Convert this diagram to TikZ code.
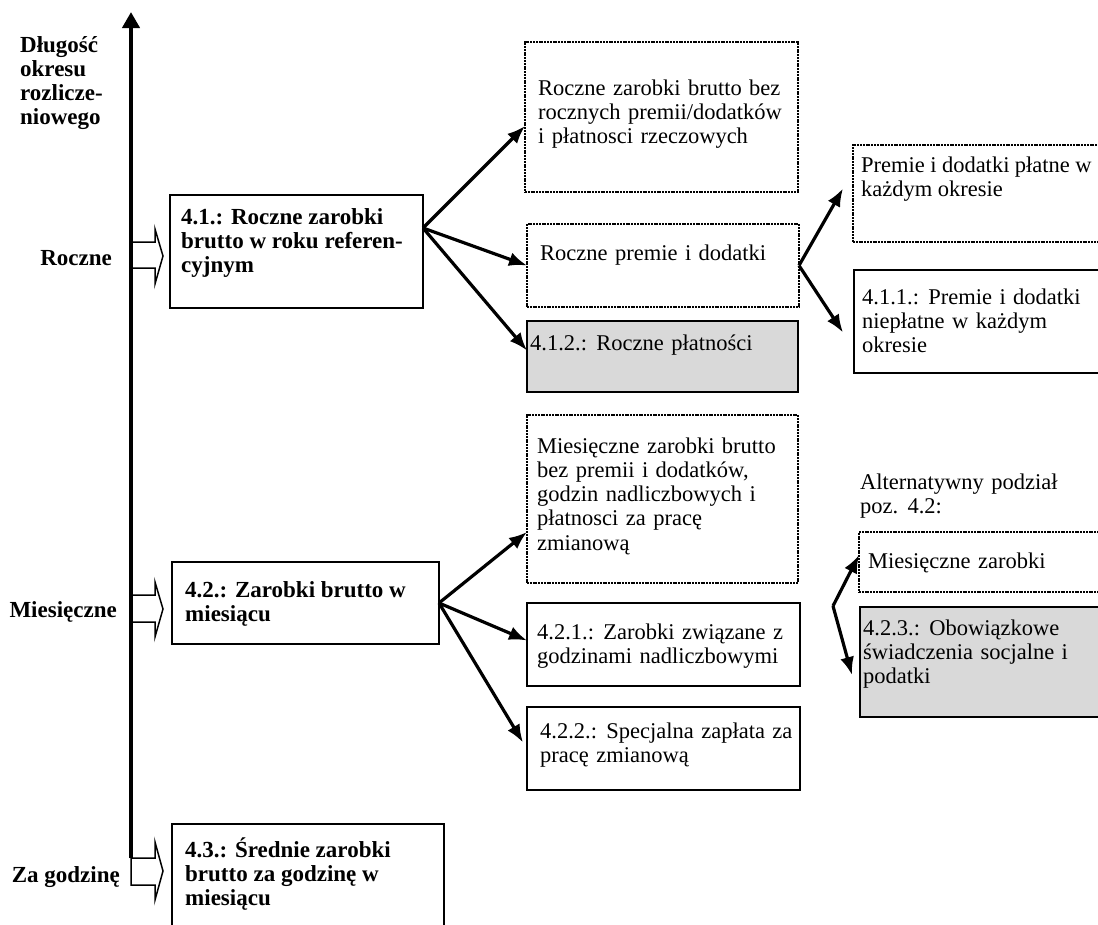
\documentclass[tikz,border=0pt]{standalone}
\usepackage{fontspec}
\setmainfont{Liberation Serif}
\usetikzlibrary{arrows.meta,calc}
\newcommand\widewordsp{\spaceskip 0.33em plus 0.05em\relax}
\newcommand\normalwordsp{\spaceskip 0.24em\relax}
\begin{document}
\begin{tikzpicture}[x=1pt,y=-1pt,
  solidbox/.style={draw, line width=1.8pt, inner sep=0pt, outer sep=0pt, anchor=north west},
  dotbox/.style={solidbox, line width=2pt, dash pattern=on 2pt off 0.8pt},
  graybox/.style={solidbox, fill=black!15},
  txt/.style={anchor=north west, inner sep=0pt, align=left, font=\fontsize{22.5}{24.2}\selectfont\widewordsp},
  stxt/.style={anchor=base west, inner sep=0pt, font=\fontsize{22.5}{24.2}\selectfont\widewordsp},
  btxt/.style={anchor=north west, inner sep=0pt, align=left, font=\fontsize{23}{24}\selectfont\bfseries},
  blabel/.style={anchor=base east, inner sep=0pt, font=\fontsize{23}{24}\selectfont\bfseries},
  conn/.style={line width=3.2pt, -{Latex[length=18pt,width=14pt]}},
  blockarrow/.style={draw, line width=1.5pt, line join=miter},
  axis/.style={line width=4pt, -{Triangle[length=16pt,width=17pt]}}
]
\useasboundingbox (0,0) rectangle (1098,924);
\clip (0,0) rectangle (1098,924);

% ---- left labels
\node[btxt] (lab) at (20,35.2) {\strut D\l{}ugość\\okresu\\rozlicze-\\niowego};
\node[blabel] (lroczne) at (112,265) {Roczne};
\node[blabel] (lmies) at (117,617) {Miesięczne};
\node[blabel] (lgodz) at (120,882) {Za godzinę};

% ---- main boxes
\node[solidbox, minimum width=253pt, minimum height=113pt] (b41) at (170,195) {};
\node[btxt] (t41) at (181,207.2) {\strut 4.1.: Roczne zarobki\\brutto w roku referen-\\cyjnym};
\node[solidbox, minimum width=267pt, minimum height=82pt] (b42) at (172,562) {};
\node[btxt] (t42) at (185,580.2) {\strut 4.2.: Zarobki brutto w\\miesiącu};
\node[solidbox, minimum width=272pt, minimum height=111pt] (b43) at (172,824) {};
\node[btxt] (t43) at (185,837.2) {\strut 4.3.: Średnie zarobki\\brutto za godzinę w\\miesiącu};

% ---- block arrows from the axis
\draw[blockarrow] (131,242) -- (155,242) -- (155,229) -- (163,256) -- (155,284) -- (155,268) -- (131,268);
\draw[blockarrow] (131,595) -- (155,595) -- (155,582) -- (163,609) -- (155,637) -- (155,622) -- (131,622);
\draw[blockarrow] (131,858) -- (155,858) -- (155,842) -- (163,871) -- (155,900) -- (155,885) -- (131,885) -- cycle;

% ---- axis
\coordinate (axbot) at (131,858);
\coordinate (axtop) at (131,12);
\draw[axis] (axbot) -- (axtop);

% ---- annual branch
\node[dotbox, minimum width=273pt, minimum height=150pt] (d1) at (525,42) {};
\node[txt] (td1) at (538,78.1) {\strut Roczne zarobki brutto bez\\rocznych premii/dodatków\\i płatnosci rzeczowych};
\node[dotbox, minimum width=272pt, minimum height=83pt] (d2) at (527,224) {};
\node[stxt] (td2) at (540,260) {Roczne premie i dodatki};
\node[graybox, minimum width=271pt, minimum height=71pt] (g412) at (527,321) {};
\node[stxt] (tg412) at (530,350) {4.1.2.: Roczne płatności};

\node[dotbox, minimum width=257pt, minimum height=97pt] (d3) at (853,145) {};
\node[txt, font=\fontsize{22.5}{24.2}\selectfont\normalwordsp] (td3) at (861,155.1) {\strut Premie i dodatki płatne w\\każdym okresie};
\node[solidbox, minimum width=256pt, minimum height=103pt] (b411) at (854,270) {};
\node[txt] (tb411) at (862,287.1) {\strut 4.1.1.: Premie i dodatki\\niepłatne w każdym\\okresie};

\coordinate (s41) at ([yshift=-33pt]b41.north east);
\draw[conn] (s41) -- ([yshift=-9pt]d1.west);
\draw[conn] (s41) -- (d2.west);
\draw[conn] (s41) -- ([yshift=6pt]g412.west);
\draw[conn] (d2.east) -- ([xshift=-10pt,yshift=5pt]d3.west);
\draw[conn] (d2.east) -- ([xshift=-11pt,yshift=-11pt]b411.west);

% ---- monthly branch
\node[dotbox, minimum width=271pt, minimum height=168pt] (d4) at (527,415) {};
\node[txt] (td4) at (537,436.1) {\strut Miesięczne zarobki brutto\\bez premii i dodatków,\\godzin nadliczbowych i\\płatnosci za pracę\\zmianową};
\node[solidbox, minimum width=273pt, minimum height=83pt] (b421) at (527,603) {};
\node[txt] (tb421) at (537,622.1) {\strut 4.2.1.: Zarobki związane z\\godzinami nadliczbowymi};
\node[solidbox, minimum width=273pt, minimum height=83pt] (b422) at (527,707) {};
\node[txt] (tb422) at (540,721.1) {\strut 4.2.2.: Specjalna zapłata za\\pracę zmianową};

\draw[conn] (b42.east) -- ([yshift=-33pt]d4.west);
\draw[conn] (b42.east) -- ([yshift=4pt]b421.west);
\draw[conn] (b42.east) -- ([xshift=-4pt,yshift=6pt]b422.west);

% ---- alternative breakdown
\node[txt] (alt) at (860,472.1) {\strut Alternatywny podział\\poz. 4.2:};
\node[dotbox, minimum width=251pt, minimum height=60pt] (d5) at (859,532) {};
\node[stxt] (td5) at (868,568) {Miesięczne zarobki};
\node[graybox, minimum width=250pt, minimum height=110pt] (g423) at (860,607) {};
\node[txt] (tg423) at (863,618.1) {\strut 4.2.3.: Obowiązkowe\\świadczenia socjalne i\\podatki};

\coordinate (fork) at (833,606);
\draw[conn] (fork) -- ([yshift=7pt]d5.west);
\draw[conn] (fork) -- ([xshift=-8pt,yshift=-13pt]g423.west);
\end{tikzpicture}
\end{document}
